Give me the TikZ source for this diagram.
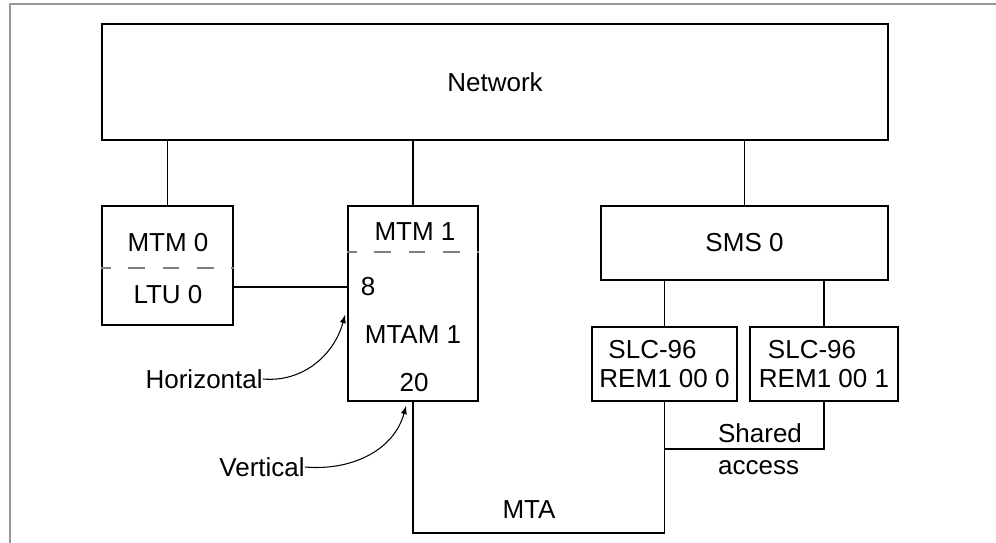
\documentclass[tikz,border=0pt]{standalone}
\usepackage{fontspec}
\setmainfont{Liberation Sans}
\usetikzlibrary{positioning}
\tikzset{>=latex}
\tikzset{unit/.style={draw, line width=1.5pt, inner sep=0pt}}
\tikzset{wire/.style={line width=1.1pt}}
\tikzset{split/.style={gray, line width=0.6pt, dash pattern=on 9.6pt off 10pt, dash phase=4pt}}
\tikzset{lbl/.style={inner sep=0pt, font=\fontsize{14.8}{17}\selectfont}}

\begin{document}
\begin{tikzpicture}[x=0.02cm,y=-0.02cm,font=\fontsize{14.8}{17}\selectfont]
      \useasboundingbox (0,0) rectangle (996,543);
      \draw[gray!80, line width=1.2pt] (10,543) -- (10,4) -- (996,4);
      % boxes
      \node[unit, minimum width=15.72cm, minimum height=2.32cm] (net) at (495,82) {Network};
      \node[unit, minimum width=2.62cm, minimum height=2.38cm] (mtmz) at (167.5,265.5) {};
      \node[unit, minimum width=2.6cm, minimum height=3.9cm] (mtmo) at (413,303.5) {};
      \node[unit, minimum width=5.74cm, minimum height=1.48cm] (sms) at (744.5,243) {SMS 0};
      \node[unit, minimum width=2.9cm, minimum height=1.48cm, align=left] (slca) at (664.5,364) {\hspace{0.18cm}SLC-96\\REM1 00 0};
      \node[unit, minimum width=2.96cm, minimum height=1.48cm, align=left] (slcb) at (824,364) {\hspace{0.18cm}SLC-96\\REM1 00 1};
      % inside the two MTM boxes
      \draw[split] (mtmz.west |- 0,268) -- (mtmz.east |- 0,268);
      \draw[split] (mtmo.west |- 0,252) -- (mtmo.east |- 0,252);
      \node[lbl] (mtmzt) at (168,243) {MTM 0};
      \node[lbl] (ltu) at (168,295) {LTU 0};
      \node[lbl] (mtmot) at (415,232) {MTM 1};
      \node[lbl] (ph) at (368,287) {8};
      \node[lbl] (mtam) at (413,335) {MTAM 1};
      \node[lbl] (pv) at (414,383) {20};
      % links
      \draw[wire] (mtmz.north |- net.south) -- (mtmz.north);
      \draw[wire] (mtmo.north |- net.south) -- (mtmo.north);
      \draw[wire] (sms.north |- net.south) -- (sms.north);
      \draw[wire] (slca.north |- sms.south) -- (slca.north);
      \draw[wire] (slcb.north |- sms.south) -- (slcb.north);
      \draw[wire] (mtmz.east |- ph) -- (mtmo.west |- ph);
      \coordinate (mtab) at (0,533);
      \coordinate (shr) at (0,449);
      \draw[wire] (mtmo.south) -- (mtmo.south |- mtab) -| (slca.south);
      \draw[wire] (slcb.south) |- (slca.south |- shr);
      \node[lbl] (mta) at (529,510) {MTA};
      \node[lbl, align=left, font=\fontsize{14.8}{18.5}\selectfont] (shared) at (760,449) {Shared\\access};
      % callouts
      \node[lbl, anchor=east] (hz) at (263,379) {Horizontal};
      \node[lbl, anchor=east] (vt) at (305,467) {Vertical};
      \coordinate (hzt) at (345,315);
      \coordinate (vtt) at (406,406);
      \draw[->, line width=0.6pt] (hz.east) to[out=-5, in=-105] (hzt);
      \draw[->, line width=0.6pt] (vt.east) to[out=-5, in=-105] (vtt);
\end{tikzpicture}
\end{document}
